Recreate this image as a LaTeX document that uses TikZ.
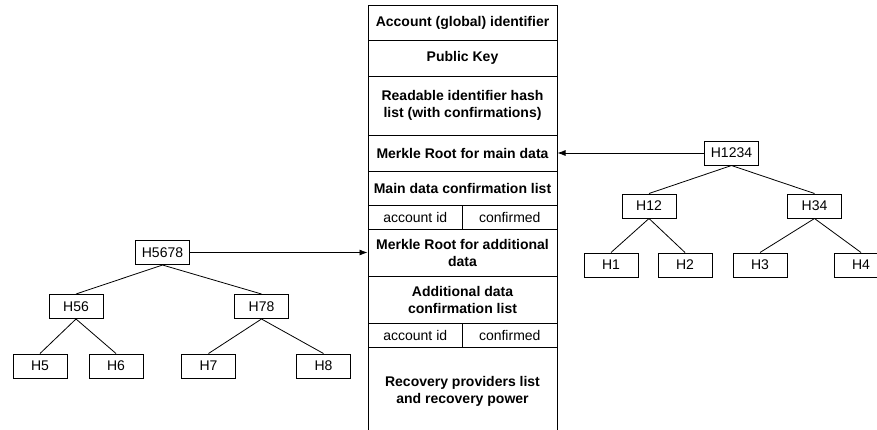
\documentclass[tikz,border=0pt]{standalone}
\usepackage{fontspec}
\setmainfont{Liberation Sans}
\usetikzlibrary{arrows.meta}
\begin{document}
\begin{tikzpicture}[x=1pt,y=-1pt,
  cell/.style={draw, line width=1pt, inner sep=0pt, align=center, font=\fontsize{14}{17}\selectfont\bfseries, minimum width=189pt},
  subcell/.style={draw, line width=1pt, inner sep=0pt, font=\fontsize{14}{17}\selectfont, minimum width=94.5pt, minimum height=24pt},
  hash/.style={draw, line width=1pt, inner sep=0pt, font=\fontsize{14}{17}\selectfont, minimum width=54pt, minimum height=24pt},
  link/.style={line width=0.8pt},
  ptr/.style={line width=0.8pt, -{Latex[length=8pt,width=6pt]}}]
\useasboundingbox (0,0) rectangle (877,429);
\clip (0,0) rectangle (877,429);
% table
\node[cell, minimum height=35pt] (acc) at (462.5,22.5) {Account (global) identifier};
\node[cell, minimum height=36pt] (pk) at (462.5,58) {Public Key};
\node[cell, minimum height=59pt] (ri) at (462.5,105.5) {Readable identifier hash\\list (with confirmations)};
\node[cell, minimum height=36pt] (mr1) at (462.5,153) {Merkle Root for main data};
\node[cell, minimum height=34pt] (mc) at (462.5,188) {Main data confirmation list};
\node[subcell] (ai1) at (415.25,217) {account id};
\node[subcell] (cf1) at (509.75,217) {confirmed};
\node[cell, minimum height=47pt] (mr2) at (462.5,252.5) {Merkle Root for additional\\data};
\node[cell, minimum height=47pt] (ac) at (462.5,299.5) {Additional data\\confirmation list};
\node[subcell] (ai2) at (415.25,335) {account id};
\node[subcell] (cf2) at (509.75,335) {confirmed};
\node[cell, minimum height=88pt] (rp) at (462.5,391) {Recovery providers list\\and recovery power};
% right tree
\node[hash] (h1234) at (731.5,153) {H1234};
\node[hash] (h12) at (649,206) {H12};
\node[hash] (h34) at (814.5,206) {H34};
\node[hash] (h1) at (611,265) {H1};
\node[hash] (h2) at (685,265) {H2};
\node[hash] (h3) at (760,265) {H3};
\node[hash] (h4) at (861,265) {H4};
\draw[link] (h1234.south) -- (h12.north);
\draw[link] (h1234.south) -- (h34.north);
\draw[link] (h12.south) -- (h1.north);
\draw[link] (h12.south) -- (h2.north);
\draw[link] (h34.south) -- (h3.north);
\draw[link] (h34.south) -- (h4.north);
\draw[ptr] (h1234.west) -- (mr1.east);
% left tree
\node[hash] (h5678) at (162.5,252.5) {H5678};
\node[hash] (h56) at (76,306.5) {H56};
\node[hash] (h78) at (261.5,306.5) {H78};
\node[hash] (h5) at (40,366) {H5};
\node[hash] (h6) at (116,366) {H6};
\node[hash] (h7) at (208.5,366) {H7};
\node[hash] (h8) at (323.5,366) {H8};
\draw[link] (h5678.south) -- (h56.north);
\draw[link] (h5678.south) -- (h78.north);
\draw[link] (h56.south) -- (h5.north);
\draw[link] (h56.south) -- (h6.north);
\draw[link] (h78.south) -- (h7.north);
\draw[link] (h78.south) -- (h8.north);
\draw[ptr] (h5678.east) -- (mr2.west);
\end{tikzpicture}
\end{document}
